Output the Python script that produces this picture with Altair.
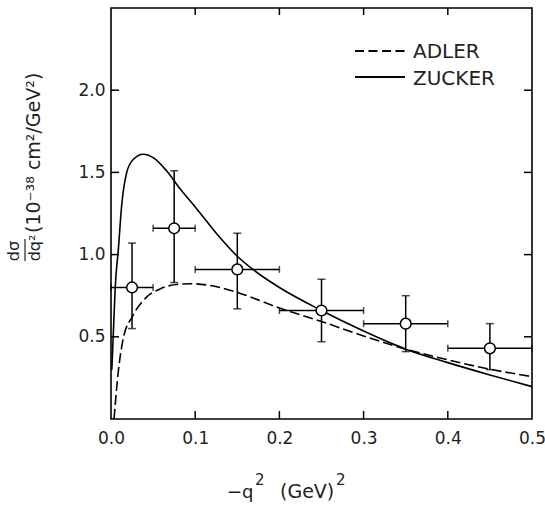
import altair as alt
import pandas as pd

# ---- data ----
pt_x = [0.025, 0.075, 0.15, 0.25, 0.35, 0.45]
pt_y = [0.80, 1.16, 0.91, 0.66, 0.58, 0.43]
pt_ylo = [0.55, 0.83, 0.67, 0.47, 0.41, 0.30]
pt_yhi = [1.07, 1.51, 1.13, 0.85, 0.75, 0.58]
pt_xlo = [0.0, 0.05, 0.10, 0.20, 0.30, 0.40]
pt_xhi = [0.05, 0.10, 0.20, 0.30, 0.40, 0.50]

zucker_x = [0.001, 0.003, 0.005, 0.0087, 0.0127, 0.0187, 0.0266, 0.0385, 0.05,
            0.066, 0.082, 0.1, 0.125, 0.15, 0.175, 0.2, 0.25, 0.3, 0.35, 0.4, 0.45, 0.5]
zucker_y = [0.30, 0.55, 0.80, 1.03, 1.30, 1.50, 1.58, 1.61, 1.59,
            1.51, 1.40, 1.29, 1.13, 0.99, 0.885, 0.80, 0.66, 0.535, 0.425, 0.343, 0.268, 0.197]

adler_x = [0.0036, 0.0087, 0.015, 0.025, 0.042, 0.06, 0.08, 0.095, 0.12, 0.15,
           0.2, 0.25, 0.3, 0.35, 0.4, 0.45, 0.5]
adler_y = [0.0, 0.29, 0.50, 0.62, 0.74, 0.795, 0.82, 0.823, 0.81, 0.77,
           0.675, 0.593, 0.505, 0.425, 0.36, 0.303, 0.258]

x_ticks = [0.0, 0.1, 0.2, 0.3, 0.4, 0.5]
x_inner_ticks = [0.1, 0.2, 0.3, 0.4]
y_ticks = [0.5, 1.0, 1.5, 2.0]

FONT = "DejaVu Sans"
INK = "#222"
W, H = 421, 411

pts = pd.DataFrame({"x": pt_x, "y": pt_y, "ylo": pt_ylo, "yhi": pt_yhi,
                    "xlo": pt_xlo, "xhi": pt_xhi})
zdf = pd.DataFrame({"x": zucker_x, "y": zucker_y})
adf = pd.DataFrame({"x": adler_x, "y": adler_y})
xt = pd.DataFrame({"x": x_inner_ticks})
yt = pd.DataFrame({"y": y_ticks})

xsc = alt.Scale(domain=[0, 0.5], nice=False, zero=False)
ysc = alt.Scale(domain=[0, 2.5], nice=False, zero=False)

xaxis = alt.Axis(values=x_ticks, format=".1f", labelFont=FONT, labelFontSize=17,
                 labelColor=INK, ticks=False, domain=False, grid=False,
                 labelPadding=11, title=None, labelFlush=False)
yaxis = alt.Axis(values=y_ticks, format=".1f", labelFont=FONT, labelFontSize=17,
                 labelColor=INK, ticks=False, domain=False, grid=False,
                 labelPadding=6, title=None)

zucker = alt.Chart(zdf).mark_line(color="black", strokeWidth=1.6, interpolate="monotone").encode(
    x=alt.X("x:Q", scale=xsc, axis=xaxis),
    y=alt.Y("y:Q", scale=ysc, axis=yaxis),
)
adler = alt.Chart(adf).mark_line(color="black", strokeWidth=1.6, strokeDash=[10, 4],
                                 interpolate="monotone").encode(
    x=alt.X("x:Q", scale=xsc), y=alt.Y("y:Q", scale=ysc))

vbar = alt.Chart(pts).mark_rule(color="black", strokeWidth=1.5).encode(
    x=alt.X("x:Q", scale=xsc), y=alt.Y("ylo:Q", scale=ysc), y2="yhi:Q")
hbar = alt.Chart(pts).mark_rule(color="black", strokeWidth=1.5).encode(
    x=alt.X("xlo:Q", scale=xsc), x2="xhi:Q", y=alt.Y("y:Q", scale=ysc))
cap_lo = alt.Chart(pts).mark_tick(color="black", orient="horizontal", size=8, thickness=1.5).encode(
    x=alt.X("x:Q", scale=xsc), y=alt.Y("ylo:Q", scale=ysc))
cap_hi = alt.Chart(pts).mark_tick(color="black", orient="horizontal", size=8, thickness=1.5).encode(
    x=alt.X("x:Q", scale=xsc), y=alt.Y("yhi:Q", scale=ysc))
cap_l = alt.Chart(pts).mark_tick(color="black", orient="vertical", size=7, thickness=1.5).encode(
    x=alt.X("xlo:Q", scale=xsc), y=alt.Y("y:Q", scale=ysc))
cap_r = alt.Chart(pts).mark_tick(color="black", orient="vertical", size=7, thickness=1.5).encode(
    x=alt.X("xhi:Q", scale=xsc), y=alt.Y("y:Q", scale=ysc))
circles = alt.Chart(pts).mark_point(shape="circle", filled=True, fill="white", stroke="black",
                                    strokeWidth=1.5, size=115, opacity=1).encode(
    x=alt.X("x:Q", scale=xsc), y=alt.Y("y:Q", scale=ysc))

# inward frame ticks
tb = alt.Chart(xt).mark_rule(color="black", strokeWidth=1.5).encode(
    x=alt.X("x:Q", scale=xsc), y=alt.value(H), y2=alt.value(H - 8))
tt = alt.Chart(xt).mark_rule(color="black", strokeWidth=1.5).encode(
    x=alt.X("x:Q", scale=xsc), y=alt.value(0), y2=alt.value(7))
tl = alt.Chart(yt).mark_rule(color="black", strokeWidth=1.5).encode(
    y=alt.Y("y:Q", scale=ysc), x=alt.value(0), x2=alt.value(8))
tr = alt.Chart(yt).mark_rule(color="black", strokeWidth=1.5).encode(
    y=alt.Y("y:Q", scale=ysc), x=alt.value(W), x2=alt.value(W - 8))

one = pd.DataFrame({"a": [0]})


def txt(s, x, y, size, align="left", baseline="alphabetic", angle=0):
    kw = dict(text=s, font=FONT, fontSize=size, align=align, baseline=baseline, color=INK)
    if angle:
        kw["angle"] = angle
    return alt.Chart(one).mark_text(**kw).encode(x=alt.value(x), y=alt.value(y))


# legend
leg_dash = alt.Chart(one).mark_rule(color="black", strokeWidth=1.8, strokeDash=[9, 4.5]).encode(
    x=alt.value(244), x2=alt.value(294), y=alt.value(43))
leg_solid = alt.Chart(one).mark_rule(color="black", strokeWidth=1.8).encode(
    x=alt.value(244), x2=alt.value(294), y=alt.value(69))
leg_t1 = txt("ADLER", 302, 50, 20)
leg_t2 = txt("ZUCKER", 302, 77, 20)

# x title: −q² (GeV)²
xt1 = txt("−q", 116, 490, 18)
xt2 = txt("2", 144, 477, 15)
xt3 = txt("(GeV)", 169, 490, 19)
xt4 = txt("2", 225, 477, 15)

# y title (fraction + units), rotated
yt_num = txt("dσ", -97, 243, 16, align="center", baseline="middle", angle=270)
yt_bar = alt.Chart(one).mark_rule(color=INK, strokeWidth=1.2).encode(
    x=alt.value(-86), y=alt.value(231), y2=alt.value(253))
yt_den = txt("dq²", -76, 240, 16, align="center", baseline="middle", angle=270)
yt_units = txt("(10⁻³⁸ cm²/GeV²)", -71, 225, 19, angle=270)

chart = alt.layer(
    zucker, adler, vbar, hbar, cap_lo, cap_hi, cap_l, cap_r, circles,
    tb, tt, tl, tr, leg_dash, leg_solid, leg_t1, leg_t2,
    xt1, xt2, xt3, xt4, yt_num, yt_bar, yt_den, yt_units,
).properties(
    width=W, height=H,
    autosize=alt.AutoSizeParams(type="none"),
    padding={"left": 111, "top": 8, "right": 13, "bottom": 89},
    background="white",
).configure_view(stroke="black", strokeWidth=1.6)

chart.save("out.html", embed_options={"renderer": "svg", "actions": False})
